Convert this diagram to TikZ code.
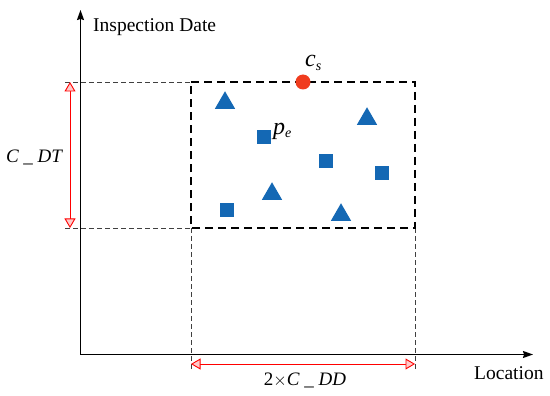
\documentclass[tikz,border=0pt]{standalone}
\usepackage{fontspec}
\setmainfont{Liberation Serif}
\usetikzlibrary{arrows.meta,shapes.geometric}
\definecolor{ptblue}{RGB}{20,104,180}
\definecolor{ptred}{RGB}{240,60,30}
\begin{document}
\begin{tikzpicture}[x=1pt,y=-1pt,
  axis/.style={line width=1.2pt,-{Stealth[length=10pt,width=7pt,inset=1pt]}},
  guide/.style={black!75,line width=0.6pt,dash pattern=on 5pt off 3pt},
  window/.style={line width=1.5pt,dash pattern=on 8pt off 5pt},
  span/.style={red,line width=0.9pt,{Triangle[length=9.5pt,width=11pt,fill=red!20]}-{Triangle[length=9.5pt,width=11pt,fill=red!20]}},
  tri/.style={fill=ptblue,draw=none,regular polygon,regular polygon sides=3,minimum size=23.5pt,inner sep=0pt},
  sq/.style={fill=ptblue,draw=none,minimum size=13.5pt,inner sep=0pt},
  lbl/.style={font=\fontsize{19.5}{22}\selectfont,inner sep=0pt},
  mlbl/.style={font=\fontsize{19}{22}\selectfont\itshape,inner sep=0pt},
  plbl/.style={font=\fontsize{24}{27}\selectfont\itshape,inner sep=0pt}]
\useasboundingbox (0,0) rectangle (550,396);
% axes
\coordinate (O) at (80.5,354.5);
\coordinate (Ytip) at (80.5,10);
\coordinate (Xtip) at (533,354.5);
\draw[axis] (O) -- (Ytip);
\draw[axis] (O) -- (Xtip);
% window corners
\coordinate (TL) at (191,82);
\coordinate (TR) at (415,82);
\coordinate (BL) at (191,228);
\coordinate (BR) at (415,228);
\coordinate (gT) at (65,82);
\coordinate (gB) at (65,228);
\coordinate (gL) at (191,369);
\coordinate (gR) at (415,369);
\draw[guide] (gT) -- (TL);
\draw[guide] (gB) -- (BL);
\draw[guide] (BL) -- (gL);
\draw[guide] (BR) -- (gR);
\draw[window] (TL) -- (TR) -- (BR) -- (BL) -- cycle;
% spans
\coordinate (vA) at (70,82);
\coordinate (vB) at (70,228);
\draw[span] (vA) -- (vB);
\coordinate (hA) at (191,364);
\coordinate (hB) at (415,364);
\draw[span] (hA) -- (hB);
% labels
\node[lbl,anchor=west] (ylab) at (93,27) {Inspection Date};
\node[lbl,anchor=west] (xlab) at (474,373) {Location};
\node[mlbl] (dt) at (34,157) {C \_ DT};
\node[mlbl] (dd) at (305,380) {{\upshape 2}$\times$C \_ DD};
% points
\node[circle,fill=ptred,minimum size=15pt,inner sep=0pt] (cs) at (303,82) {};
\node[plbl,anchor=west] (cslab) at (305,63) {c\raisebox{-0.35ex}{\fontsize{14}{15}\selectfont s}};
\node[tri] (t1) at (225,103) {};
\node[tri] (t2) at (367,119) {};
\node[tri] (t3) at (272,194) {};
\node[tri] (t4) at (341,215) {};
\node[sq] (s1) at (264,137) {};
\node[sq] (s2) at (326,161) {};
\node[sq] (s3) at (382,173) {};
\node[sq] (s4) at (227,210) {};
\node[plbl,anchor=west] (pelab) at (273,131) {p\raisebox{-0.35ex}{\fontsize{14}{15}\selectfont e}};
\end{tikzpicture}
\end{document}
